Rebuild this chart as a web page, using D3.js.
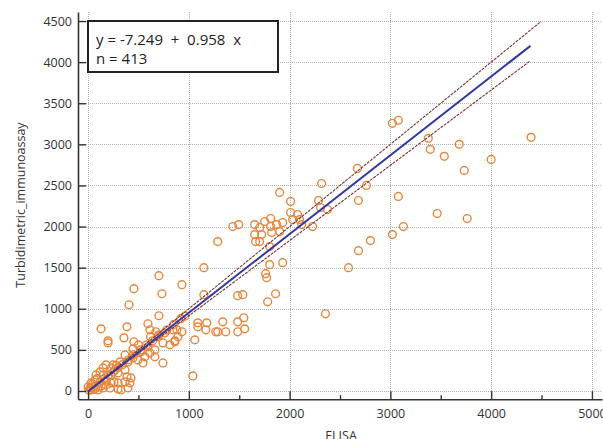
<!DOCTYPE html>
<html>
<head>
<meta charset="utf-8">
<script src="https://cdn.jsdelivr.net/npm/d3@7"></script>
<style>
  html, body { margin: 0; padding: 0; background: #fff; }
  svg { display: block; font-family: "Open Sans", "Noto Sans", sans-serif; }
</style>
</head>
<body>
<svg id="chart" width="603" height="439"></svg>
<script>
// ---- data ----
const elisa = [
  3020,3079,3376,3396,3683,3535,4396,4000,3733,3079,3465,3762,3129,3020,
  2673,2317,2762,2683,2010,2287,2307,2376,2010,2030,1931,1901,2228,2119,2802,2683,2584,1931,2356,2079,2099,
  1653,1703,1752,1812,1812,1871,1436,1495,1653,1723,1822,1901,1663,1703,1287,1802,1802,1762,1772,1149,
  703,455,733,931,1149,1861,1485,1535,1782,1089,1178,1337,1485,1545,1168,1267,1287,1366,1485,1554,
  881,931,861,1059,1089,1040,
  406,703,129,386,594,614,673,198,198,356,455,693,762,842,891,861,743,812,446,525,594,663,614,366,
  446,495,564,663,743,545,396,317,248,178,267,366,228,297,386,366,297,416,297,327,396,149,119,149,
  79,69,30,178,178,218,149,99,30,0,20,99,228,257,426,
  50,80,120,160,200,250,300,340,400,450,520,580,640,700,780,850,920,10,60,40,130,90,230,280,500,620,960
];
const turbidimetric = [
  3256,3293,3073,2939,3000,2854,3085,2817,2683,2366,2158,2098,2000,1902,
  2707,2524,2500,2317,2305,2317,2232,2207,2171,2085,2049,2415,2000,2024,1829,1707,1500,1561,939,2146,2085,
  2024,1988,2061,2098,2000,2024,2000,2024,1902,1902,1927,1939,1817,1817,1817,1756,1537,1427,1378,1500,
  1402,1244,1183,1293,1171,1183,1159,1171,1085,829,829,841,841,890,744,720,720,720,720,756,
  744,720,610,622,780,183,
  1049,915,756,780,817,744,720,610,585,646,598,659,707,744,659,598,585,561,512,476,537,500,463,439,
  402,378,415,415,341,341,354,354,317,317,256,256,195,220,171,110,98,98,24,12,37,280,232,195,
  195,134,98,134,73,37,37,49,12,49,37,12,98,110,159,
  40,70,110,150,190,230,290,320,380,440,500,560,610,680,740,810,880,10,20,80,60,150,280,310,560,660,910
];
const intercept = -7.249;
const slope = 0.958;
const upperSlope = 1.0;
const lowerSlope = 0.915;
const fitXMax = 4390;
const upperXMax = 4495;
const nObs = 413;
const xTicks = [0, 1000, 2000, 3000, 4000, 5000];
const xMinorTicks = [500, 1500, 2500, 3500, 4500];
const yTicks = [0, 500, 1000, 1500, 2000, 2500, 3000, 3500, 4000, 4500];
const xTitle = "ELISA";
const yTitle = "Turbidimetric_immunoassay";

// ---- scales ----
const svg = d3.select("#chart");
const x = d3.scaleLinear().domain([-100, 5100]).range([78, 602]);
const y = d3.scaleLinear().domain([-100, 4610]).range([399.2, 12]);

// grid
const grid = svg.append("g").attr("stroke", "#b4b4b4").attr("stroke-width", 1).attr("stroke-dasharray", "1,1");
grid.selectAll("line.v").data(xTicks).join("line")
  .attr("x1", d => Math.round(x(d)) + 0.5).attr("x2", d => Math.round(x(d)) + 0.5)
  .attr("y1", y.range()[1]).attr("y2", y.range()[0]);
grid.selectAll("line.h").data(yTicks).join("line")
  .attr("y1", d => Math.round(y(d)) + 0.5).attr("y2", d => Math.round(y(d)) + 0.5)
  .attr("x1", x.range()[0]).attr("x2", x.range()[1]);

// points
svg.append("g").selectAll("circle").data(elisa.map((e, i) => [e, turbidimetric[i]])).join("circle")
  .attr("cx", d => x(d[0])).attr("cy", d => y(d[1])).attr("r", 3.9)
  .attr("fill", "none").attr("stroke", "#e8863c").attr("stroke-width", 1.4);

// regression & limits
const line = d3.line().x(d => x(d[0])).y(d => y(d[1]));
svg.append("path").datum([[0, 0], [upperXMax, upperSlope * upperXMax]])
  .attr("d", line).attr("stroke", "#7e3434").attr("stroke-width", 1.1).attr("fill", "none")
  .attr("stroke-dasharray", "3,1");
svg.append("path").datum([[0, 0], [fitXMax, lowerSlope * fitXMax]])
  .attr("d", line).attr("stroke", "#7e3434").attr("stroke-width", 1.1).attr("fill", "none")
  .attr("stroke-dasharray", "3,1");
svg.append("path").datum([[0, intercept], [fitXMax, intercept + slope * fitXMax]])
  .attr("d", line).attr("stroke", "#3238a0").attr("stroke-width", 2).attr("fill", "none");

// axes
const axisFont = 12.5;
svg.append("g").attr("transform", `translate(0,${y.range()[0]})`)
  .call(d3.axisBottom(x).tickValues(xTicks).tickSize(-8).tickSizeOuter(0).tickPadding(10).tickFormat(d3.format("d")));
svg.append("g").attr("transform", `translate(0,${y.range()[0]})`)
  .call(d3.axisBottom(x).tickValues(xMinorTicks).tickSize(-4).tickSizeOuter(0).tickFormat(""))
  .call(g => g.select(".domain").remove());
svg.append("g").attr("transform", `translate(${x.range()[0]},0)`)
  .call(d3.axisLeft(y).tickValues(yTicks).tickSize(-8).tickSizeOuter(0).tickPadding(6).tickFormat(d3.format("d")));
svg.selectAll(".domain").attr("stroke", "#333").attr("stroke-width", 1.6);
svg.selectAll(".tick line").attr("stroke", "#333").attr("stroke-width", 1.4);
svg.selectAll(".tick text").attr("font-size", axisFont).attr("fill", "#333")
  .attr("font-family", "'Open Sans', sans-serif");

// axis titles
svg.append("text").attr("x", 341).attr("y", 440).attr("text-anchor", "middle")
  .attr("font-size", 12.5).attr("fill", "#333").text(xTitle);
svg.append("text").attr("transform", "translate(25,205) rotate(-90)").attr("text-anchor", "middle")
  .attr("font-size", 12.5).attr("fill", "#333").text(yTitle);

// legend box
svg.append("rect").attr("x", 88).attr("y", 21).attr("width", 190).attr("height", 51)
  .attr("fill", "#fff").attr("stroke", "#222").attr("stroke-width", 2);
const eq = `y = ${intercept}  +  ${slope}  x`;
svg.append("text").attr("x", 96).attr("y", 45).attr("font-size", 15).attr("fill", "#222")
  .style("white-space", "pre").text(eq);
svg.append("text").attr("x", 96).attr("y", 64).attr("font-size", 15).attr("fill", "#222")
  .style("white-space", "pre").text(`n = ${nObs}`);
</script>
</body>
</html>
